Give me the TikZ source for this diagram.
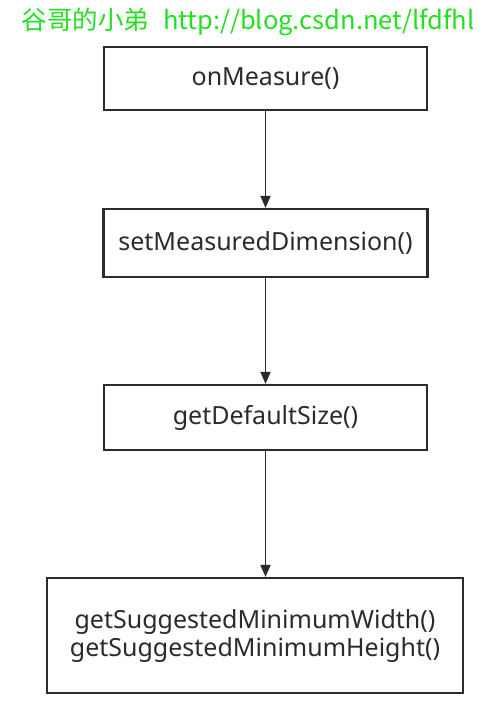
\documentclass[tikz,border=0pt]{standalone}
\usepackage{fontspec}
\setmainfont{Noto Sans}
\newfontfamily\cjk{Noto Sans CJK SC}
\usetikzlibrary{arrows.meta}
\definecolor{ink}{HTML}{2B2B2B}
\definecolor{hdr}{HTML}{22E022}
\begin{document}
\begin{tikzpicture}[x=1pt,y=-1pt,
  box/.style={draw=ink,line width=2.2pt,inner sep=0pt,text=ink,font=\fontsize{25}{28}\selectfont,align=center},
  flow/.style={draw=ink,line width=1.8pt,-{Triangle[length=12pt,width=10pt]}}]
\useasboundingbox[fill=white] (0,0) rectangle (494,726);
\node[text=hdr,font=\cjk\fontsize{25.5}{30}\selectfont,anchor=center] (hdr) at (248,22) {谷哥的小弟\hspace{14pt}http://blog.csdn.net/lfdfhl};
\node[box,minimum width=323pt,minimum height=63pt] (a) at (265.5,78.5) {onMeasure()};
\node[box,minimum width=324pt,minimum height=68pt] (b) at (265.5,243) {setMeasuredDimension()};
\node[box,minimum width=323pt,minimum height=65pt] (c) at (265.5,417.5) {getDefaultSize()};
\node[box,minimum width=416pt,minimum height=115pt] (d) at (255,635.5) {getSuggestedMinimumWidth()\\getSuggestedMinimumHeight()};
\draw[flow] (a.south) -- (b.north);
\draw[flow] (c.south) -- (c.south |- d.north);
\draw[flow] (b.south) -- (c.north);
\end{tikzpicture}
\end{document}
